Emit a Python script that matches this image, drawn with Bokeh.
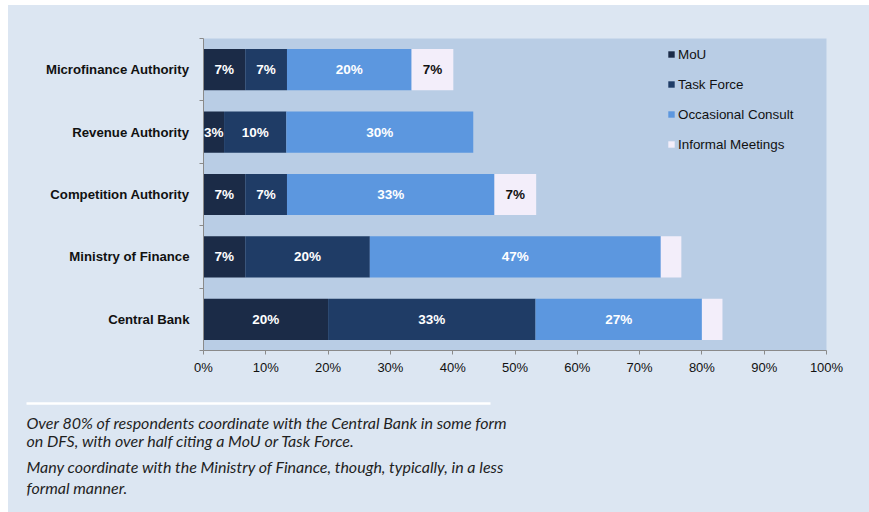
import numpy as np
from bokeh.plotting import figure
from bokeh.models import ColumnDataSource, Range1d, FixedTicker, Legend, LegendItem
from bokeh.layouts import column
from bokeh.embed import file_html
from bokeh.resources import INLINE
from bokeh.core.properties import value

# Institutions listed bottom to top
institutions = ["Central Bank", "Ministry of Finance", "Competition Authority",
                "Revenue Authority", "Microfinance Authority"]
series = ["MoU", "Task Force", "Occasional Consult", "Informal Meetings"]

# Share of respondents (%) by form of coordination
mou = [20.0, 6.7, 6.7, 3.3, 6.7]
task_force = [33.3, 20.0, 6.7, 10.0, 6.7]
occasional = [26.7, 46.7, 33.3, 30.0, 20.0]
informal = [3.3, 3.3, 6.7, 0.0, 6.7]

x_ticks = [0, 10, 20, 30, 40, 50, 60, 70, 80, 90, 100]

notes = [
    "Over 80% of respondents coordinate with the Central Bank in some form",
    "on DFS, with over half citing a MoU or Task Force.",
    "Many coordinate with the Ministry of Finance, though, typically, in a less",
    "formal manner.",
]

colors = ["#1b2b47", "#1f3c66", "#5c97df", "#f3eefa"]
label_colors = ["#ffffff", "#ffffff", "#ffffff", "#111111"]
PAGE_BG = "#dce6f2"
PLOT_BG = "#b9cde5"
AXIS_GREY = "#8a8a8a"
FONT = "Liberation Sans"

values = [mou, task_force, occasional, informal]
positions = list(range(len(institutions)))

p = figure(width=861, height=375,
           x_range=Range1d(0, 100), y_range=Range1d(-0.5, len(institutions) - 0.5),
           output_backend="svg", toolbar_location=None,
           min_border_left=195, min_border_right=43,
           min_border_top=33, min_border_bottom=30,
           background_fill_color=PLOT_BG, border_fill_color=PAGE_BG,
           outline_line_color=None, frame_align=False)
p.xgrid.visible = False
p.ygrid.visible = False

data = {"y": positions}
for name, vals in zip(series, values):
    data[name] = vals
source = ColumnDataSource(data)

renderers = p.hbar_stack(series, y="y", height=0.66, color=colors,
                         line_color=None, source=source)

# Segment labels centred on each piece of the stacked bars
lx, ly, lt, lc = [], [], [], []
for i, pos in enumerate(positions):
    left = 0.0
    for s, vals in enumerate(values):
        v = vals[i]
        if v > 0 and not (series[s] == "Informal Meetings" and v < 5):
            lx.append(left + v / 2)
            ly.append(pos)
            lt.append(f"{v:.0f}%")
            lc.append(label_colors[s])
        left += v
p.text(x="x", y="y", text="text", text_color="color",
       source=ColumnDataSource(dict(x=lx, y=ly, text=lt, color=lc)),
       text_align="center", text_baseline="middle",
       text_font=value(FONT), text_font_style="bold", text_font_size="13.5px")

# X axis
xa = p.xaxis[0]
xa.ticker = FixedTicker(ticks=x_ticks, minor_ticks=[])
xa.major_label_overrides = {t: f"{t}%" for t in x_ticks}
xa.axis_line_color = AXIS_GREY
xa.major_tick_line_color = AXIS_GREY
xa.major_tick_out = 4
xa.major_tick_in = 0
xa.major_label_standoff = 5
xa.major_label_text_font = FONT
xa.major_label_text_font_size = "13px"
xa.major_label_text_color = "#111111"

# Y axis: names at bar centres, tick marks between categories
ya = p.yaxis[0]
ya.ticker = FixedTicker(ticks=positions,
                        minor_ticks=[k - 0.5 for k in range(len(institutions) + 1)])
ya.major_label_overrides = {k: n for k, n in zip(positions, institutions)}
ya.axis_line_color = AXIS_GREY
ya.major_tick_line_color = None
ya.major_tick_out = 0
ya.major_tick_in = 0
ya.minor_tick_line_color = AXIS_GREY
ya.minor_tick_out = 4
ya.minor_tick_in = 0
ya.major_label_standoff = 10
ya.major_label_text_font = FONT
ya.major_label_text_font_style = "bold"
ya.major_label_text_font_size = "13.2px"
ya.major_label_text_color = "#111111"

legend = Legend(items=[LegendItem(label=s, renderers=[r]) for s, r in zip(series, renderers)],
                location=(464, 196), padding=0, spacing=10, margin=0,
                glyph_width=8, glyph_height=8, label_height=20, label_standoff=3,
                label_text_font=FONT, label_text_font_size="13.4px",
                label_text_color="#111111",
                border_line_color=None, background_fill_alpha=0)
p.add_layout(legend)

# Commentary panel below the chart (pixel coordinates, y pointing down)
notes_fig = figure(width=861, height=132, x_range=Range1d(0, 861), y_range=Range1d(132, 0),
                   output_backend="svg", toolbar_location=None,
                   x_axis_type=None, y_axis_type=None, min_border=0,
                   background_fill_color=PAGE_BG, border_fill_color=PAGE_BG,
                   outline_line_color=None, frame_align=False)
notes_fig.xgrid.visible = False
notes_fig.ygrid.visible = False
notes_fig.segment(x0=[18], y0=[23], x1=[482], y1=[23], line_color="#ffffff", line_width=2.5)
notes_fig.text(x=[18] * len(notes), y=[42, 60, 86, 107], text=notes,
               text_font=value("Lato"), text_font_style="italic",
               text_font_size="16px", text_baseline="middle", text_color="#1f1f1f")

layout = column(p, notes_fig, margin=(5, 0, 0, 8), spacing=0,
                styles={"background-color": PAGE_BG})

open("out.html", "w").write(file_html(layout, INLINE))
